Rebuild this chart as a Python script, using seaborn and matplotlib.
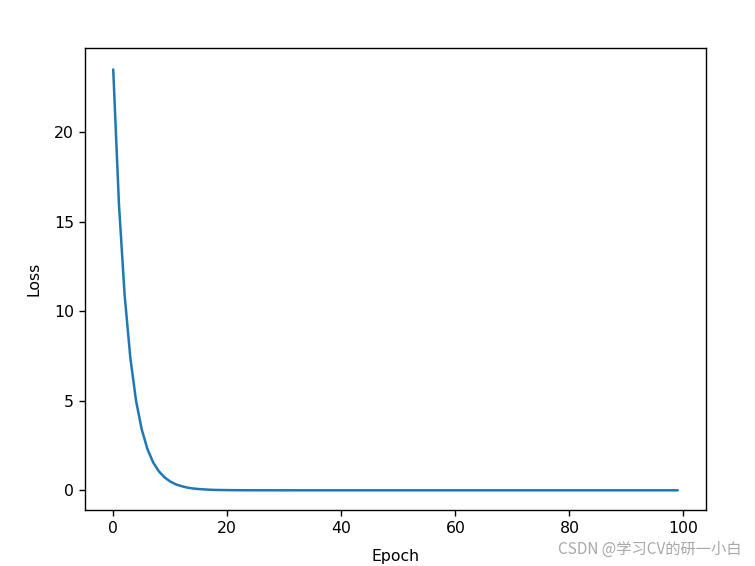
import numpy as np
import pandas as pd
import seaborn as sns
import matplotlib.pyplot as plt

# loss per epoch
epochs = list(range(100))
loss = [23.5, 16.0, 10.9, 7.4, 5.0, 3.4, 2.3, 1.56, 1.06, 0.72,
        0.49, 0.33, 0.23, 0.15, 0.10, 0.07, 0.05, 0.03, 0.02, 0.015,
        0.01, 0.007, 0.005, 0.003, 0.002, 0.0015, 0.001, 0.0007, 0.0005, 0.0003,
        0.0002, 0.0, 0.0, 0.0, 0.0, 0.0, 0.0, 0.0, 0.0, 0.0,
        0.0, 0.0, 0.0, 0.0, 0.0, 0.0, 0.0, 0.0, 0.0, 0.0,
        0.0, 0.0, 0.0, 0.0, 0.0, 0.0, 0.0, 0.0, 0.0, 0.0,
        0.0, 0.0, 0.0, 0.0, 0.0, 0.0, 0.0, 0.0, 0.0, 0.0,
        0.0, 0.0, 0.0, 0.0, 0.0, 0.0, 0.0, 0.0, 0.0, 0.0,
        0.0, 0.0, 0.0, 0.0, 0.0, 0.0, 0.0, 0.0, 0.0, 0.0,
        0.0, 0.0, 0.0, 0.0, 0.0, 0.0, 0.0, 0.0, 0.0, 0.0]
watermark = "CSDN @学习CV的研一小白"

df = pd.DataFrame({"Epoch": epochs, "Loss": loss})

sns.set_style("ticks")
plt.rcParams['font.family'] = ['DejaVu Sans']
plt.rcParams['font.size'] = 11.3
plt.rcParams['text.color'] = 'black'
plt.rcParams['axes.labelcolor'] = 'black'
plt.rcParams['xtick.color'] = 'black'
plt.rcParams['ytick.color'] = 'black'

fig = plt.figure(figsize=(7.55, 5.66), dpi=100)
ax = fig.add_axes([85 / 755, 1 - 510 / 566, 621 / 755, 462 / 566])

sns.lineplot(data=df, x="Epoch", y="Loss", ax=ax, color="#1f77b4", linewidth=1.8)
ax.set_xticks([0, 20, 40, 60, 80, 100])
ax.set_yticks([0, 5, 10, 15, 20])
ax.set_ylim(-1.1, 24.7)
ax.tick_params(labelsize=11.3, length=4.5, width=1, color="black")
ax.set_xlabel("Epoch", fontsize=11.3, labelpad=9)
ax.set_ylabel("Loss", fontsize=11.3, labelpad=9)
for s in ax.spines.values():
    s.set_color("black")
    s.set_linewidth(1)

fig.text(741 / 755, 1 - 549 / 566, watermark, ha="right", va="center",
         fontsize=11, color="#a8a8a8",
         family=['Noto Sans CJK SC', 'DejaVu Sans'])

fig.savefig("out.png", dpi=100)
